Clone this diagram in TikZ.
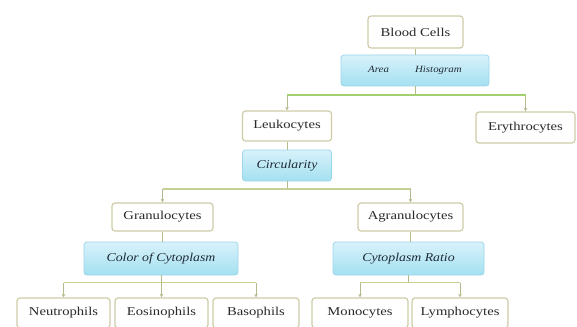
\documentclass[tikz,border=0pt]{standalone}
\usepackage{fontspec}
\setmainfont{Liberation Serif}[FakeStretch=1.22]
\newfontfamily\labit{Liberation Serif Italic}[FakeStretch=1.15]
\usetikzlibrary{arrows.meta}
\definecolor{boxc}{HTML}{CFCCA6}
\definecolor{txt}{HTML}{2A2A2A}
\definecolor{critb}{HTML}{9CD6EA}
\definecolor{critt}{HTML}{D8F2FB}
\definecolor{critbot}{HTML}{A4E0F0}
\definecolor{crittxt}{HTML}{1E2A36}
\definecolor{linec}{HTML}{B5BA8C}
\definecolor{barc}{HTML}{C4D194}
\definecolor{greenbar}{HTML}{A3CF6E}
\tikzset{
  cell/.style={draw=boxc, line width=1.2pt, rounded corners=3pt, fill=white, text=txt,
    font=\fontsize{12}{14}\selectfont, inner sep=0pt, minimum height=29pt},
  crit/.style={draw=critb, line width=0.8pt, rounded corners=3pt, top color=critt,
    bottom color=critbot, text=crittxt, font=\labit\fontsize{12}{14}\selectfont,
    inner sep=0pt, minimum height=32pt},
  conn/.style={draw=linec, line width=0.9pt},
  arr/.style={draw=linec, line width=0.9pt, -{Stealth[length=3.5pt,width=3.5pt]}},
  hbar/.style={draw=barc, line width=1.5pt},
  bigbar/.style={draw=greenbar, line width=2.6pt}
}
\begin{document}
\begin{tikzpicture}[x=1pt,y=-1pt]
\useasboundingbox[fill=white] (0,0) rectangle (577,326);
% nodes
\node[cell, minimum width=95pt, minimum height=32pt] (blood) at (415.5,32) {Blood Cells};
\node[crit, minimum width=148pt, minimum height=31pt, font=\labit\fontsize{9.5}{11}\selectfont] (hist) at (415,70.5) {Area\hspace{26pt}Histogram\hspace{8pt}};
\node[cell, minimum width=89pt, minimum height=30pt] (leuk) at (287,126) {Leukocytes};
\node[cell, minimum width=99pt, minimum height=31pt] (eryth) at (525.5,127.5) {Erythrocytes};
\node[crit, minimum width=89pt, minimum height=31pt] (circ) at (287,165.5) {Circularity};
\node[cell, minimum width=101pt, minimum height=28pt] (gran) at (162.5,217) {Granulocytes};
\node[cell, minimum width=105pt, minimum height=28pt] (agran) at (410.5,217) {Agranulocytes};
\node[crit, minimum width=154pt, minimum height=33pt] (color) at (161,258.5) {Color of Cytoplasm};
\node[crit, minimum width=151pt, minimum height=33pt] (ratio) at (408.5,258.5) {Cytoplasm Ratio};
\node[cell, minimum width=93pt, minimum height=30pt] (neut) at (63.5,313) {Neutrophils};
\node[cell, minimum width=93pt, minimum height=30pt] (eos) at (161.5,313) {Eosinophils};
\node[cell, minimum width=86pt, minimum height=30pt] (baso) at (256,313) {Basophils};
\node[cell, minimum width=96pt, minimum height=30pt] (mono) at (360,313) {Monocytes};
\node[cell, minimum width=96pt, minimum height=30pt] (lymph) at (460,313) {Lymphocytes};
% bar levels
\coordinate (bar1) at (0,95);
\coordinate (bar2) at (0,189);
\coordinate (bar3) at (0,282.5);
% connectors
\draw[conn] (blood.south) -- (blood.south |- hist.north);
\draw[conn] (hist.south) -- (hist.south |- bar1);
\draw[arr] (bar1 -| leuk) -- (leuk.north);
\draw[arr] (bar1 -| eryth) -- (eryth.north);
\draw[bigbar] (bar1 -| leuk) -- (bar1 -| eryth);
\draw[conn] (leuk.south) -- (circ.north);
\draw[conn] (circ.south) -- (circ.south |- bar2);
\draw[hbar] (bar2 -| gran) -- (bar2 -| agran);
\draw[arr] (bar2 -| gran) -- (gran.north);
\draw[arr] (bar2 -| agran) -- (agran.north);
\draw[conn] (gran.south) -- (gran.south |- color.north);
\draw[conn] (agran.south) -- (agran.south |- ratio.north);
\draw[conn] (color.south) -- (color.south |- bar3);
\draw[hbar] (bar3 -| neut) -- (bar3 -| baso);
\draw[arr] (bar3 -| neut) -- (neut.north);
\draw[arr] (bar3 -| eos) -- (eos.north);
\draw[arr] (bar3 -| baso) -- (baso.north);
\draw[conn] (ratio.south) -- (ratio.south |- bar3);
\draw[hbar] (bar3 -| mono) -- (bar3 -| lymph);
\draw[arr] (bar3 -| mono) -- (mono.north);
\draw[arr] (bar3 -| lymph) -- (lymph.north);
\end{tikzpicture}
\end{document}
